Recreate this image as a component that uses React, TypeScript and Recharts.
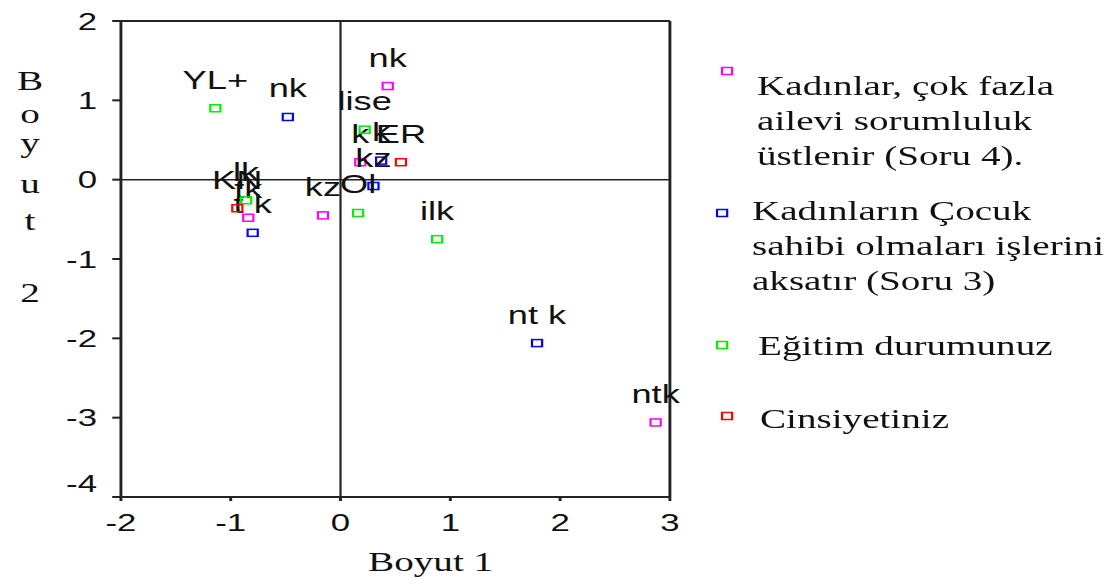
import React from 'react';
import {
  ScatterChart,
  Scatter,
  XAxis,
  YAxis,
  ReferenceLine,
  Legend,
  Label,
} from 'recharts';

// Axis ticks
const xTicks = [-2, -1, 0, 1, 2, 3];
const yTicks = [-4, -3, -2, -1, 0, 1, 2];

// Soru 4 category points (Boyut 1, Boyut 2)
const soru4Labels = ['nk', 'k', 'kz', 'tk', 'ntk'];
const soru4X = [0.43, 0.18, -0.16, -0.84, 2.87];
const soru4Y = [1.18, 0.22, -0.45, -0.48, -3.06];

// Soru 3 category points
const soru3Labels = ['nk', 'k', 'kz', 't k', 'nt k'];
const soru3X = [-0.48, 0.37, 0.3, -0.8, 1.79];
const soru3Y = [0.79, 0.24, -0.08, -0.67, -2.06];

// Eğitim durumu category points
const egitimLabels = ['YL+', 'lise', 'Ol', 'ilk', 'lk'];
const egitimX = [-1.14, 0.22, 0.16, 0.88, -0.86];
const egitimY = [0.9, 0.63, -0.42, -0.75, -0.26];

// Cinsiyet category points
const cinsiyetLabels = ['ER', 'KN'];
const cinsiyetX = [0.55, -0.94];
const cinsiyetY = [0.22, -0.36];

// Legend text, one entry per line
const soru4Name = ['Kadınlar, çok fazla', 'ailevi sorumluluk', 'üstlenir (Soru 4).'];
const soru3Name = ['Kadınların Çocuk', 'sahibi olmaları işlerini', 'aksatır (Soru 3)'];
const egitimName = ['Eğitim durumunuz'];
const cinsiyetName = ['Cinsiyetiniz'];

const yTitle = ['B', 'o', 'y', 'u', 't', '2'];

const toPoints = (labels: string[], xs: number[], ys: number[]) =>
  labels.map((label, i) => ({ x: xs[i], y: ys[i], label }));

const SANS = "'Liberation Sans', Arial, sans-serif";
const SERIF = "'Liberation Serif', 'Times New Roman', serif";
const INK = '#111';
const STRETCH = 1.45;
const W = 768;
const H = 588;

const series = [
  { key: 'soru4', name: soru4Name, color: '#ff00ff', data: toPoints(soru4Labels, soru4X, soru4Y) },
  { key: 'soru3', name: soru3Name, color: '#0000ff', data: toPoints(soru3Labels, soru3X, soru3Y) },
  { key: 'egitim', name: egitimName, color: '#00ee00', data: toPoints(egitimLabels, egitimX, egitimY) },
  { key: 'cinsiyet', name: cinsiyetName, color: '#ff0000', data: toPoints(cinsiyetLabels, cinsiyetX, cinsiyetY) },
];

// hollow square marker with its category label above it
const makeShape = (color: string) => (props: any) => {
  const { cx, cy, payload } = props;
  return (
    <g>
      <text
        x={cx}
        y={cy - 19.5}
        textAnchor="middle"
        fontFamily={SANS}
        fontSize={25}
        fill={INK}
      >
        {payload.label}
      </text>
      <rect x={cx - 3.5} y={cy - 3.5} width={7} height={7} fill="none" stroke={color} strokeWidth={1.5} />
    </g>
  );
};

const YTick = (props: any) => {
  const { x, y, payload } = props;
  const shift = payload.value === -4 ? -14 : 0;
  return (
    <text x={x} y={y + shift} dy="0.355em" textAnchor="end" fontFamily={SANS} fontSize={24} fill={INK}>
      {payload.value}
    </text>
  );
};

const YTitle = () => {
  const baselines = [90, 123, 152, 193, 230, 302];
  return (
    <g>
      {yTitle.map((ch, i) => (
        <text key={i} x={20.7} y={baselines[i]} textAnchor="middle" fontFamily={SERIF} fontSize={27} fill={INK}>
          {ch}
        </text>
      ))}
    </g>
  );
};

const XTitle = () => (
  <text x={297} y={571} textAnchor="middle" fontFamily={SERIF} fontSize={27} fill={INK}>
    Boyut 1
  </text>
);

// square centre and text start / first baseline per legend entry, in series order
const legendLayout = [
  { sx: 21.4, sy: 31, tx: 42.1, ty: 55 },
  { sx: 18, sy: 173, tx: 38.6, ty: 180 },
  { sx: 18, sy: 305, tx: 42.8, ty: 315 },
  { sx: 21.4, sy: 376, tx: 44.1, ty: 388 },
];

const LegendBox = (props: any) => {
  const { payload = [] } = props;
  return (
    <svg width={288} height={420} style={{ overflow: 'visible' }}>
      {payload.map((entry: any) => {
        const idx = series.findIndex((s) => s.name.join('\n') === entry.value);
        const l = legendLayout[idx];
        if (!l) return null;
        const lines = String(entry.value).split('\n');
        return (
          <g key={idx}>
            <rect x={l.sx - 3.5} y={l.sy - 3.5} width={7} height={7} fill="none" stroke={entry.color} strokeWidth={1.5} />
            {lines.map((line, j) => (
              <text key={j} x={l.tx} y={l.ty + j * 35} fontFamily={SERIF} fontSize={27} fill={INK}>
                {line}
              </text>
            ))}
          </g>
        );
      })}
    </svg>
  );
};

export default function App() {
  return (
    <div
      style={{
        position: 'absolute',
        left: 0,
        top: 0,
        width: W,
        height: H,
        background: '#fff',
        transform: `scaleX(${STRETCH})`,
        transformOrigin: '0 0',
      }}
    >
      <ScatterChart width={W} height={H} margin={{ top: 21, right: 306, bottom: 0, left: 0 }}>
        <XAxis
          type="number"
          dataKey="x"
          domain={[-2, 3]}
          ticks={xTicks}
          height={91}
          tickSize={4}
          tickMargin={13}
          axisLine={{ stroke: '#222', strokeWidth: 2 }}
          tickLine={{ stroke: '#222', strokeWidth: 2 }}
          tick={{ fill: INK, fontSize: 24, fontFamily: SANS }}
        >
          <Label content={<XTitle />} />
        </XAxis>
        <YAxis
          type="number"
          dataKey="y"
          domain={[-4, 2]}
          ticks={yTicks}
          width={83.4}
          tickSize={6}
          tickMargin={10.5}
          axisLine={{ stroke: '#222', strokeWidth: 2 }}
          tickLine={{ stroke: '#222', strokeWidth: 2 }}
          tick={<YTick />}
        >
          <Label content={<YTitle />} />
        </YAxis>
        <ReferenceLine y={2} stroke="#222" strokeWidth={2} />
        <ReferenceLine x={3} stroke="#222" strokeWidth={2} />
        <ReferenceLine y={0} stroke="#222" strokeWidth={1.5} />
        <ReferenceLine x={0} stroke="#222" strokeWidth={1.5} />
        <Legend
          layout="vertical"
          align="center"
          verticalAlign="middle"
          wrapperStyle={{ left: 480, top: 40, width: 288, height: 420 }}
          content={<LegendBox />}
        />
        {series.map((s) => (
          <Scatter
            key={s.key}
            name={s.name.join('\n')}
            data={s.data}
            fill={s.color}
            shape={makeShape(s.color)}
            isAnimationActive={false}
          />
        ))}
      </ScatterChart>
    </div>
  );
}
